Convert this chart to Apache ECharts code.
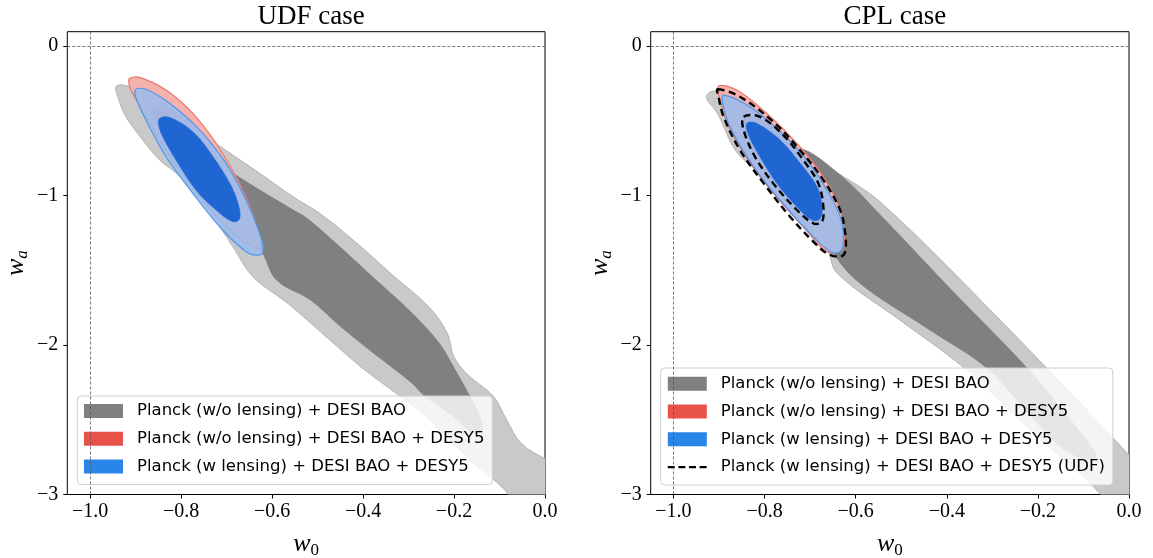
<!DOCTYPE html>
<html><head><meta charset="utf-8">
<script src="https://cdn.jsdelivr.net/npm/echarts@6.0.0/dist/echarts.min.js"></script>
<style>html,body{margin:0;padding:0;background:#fff}#c{width:1153px;height:558px}</style>
</head><body><div id="c"></div><script>
// ---- tick labels / names ----
const xTicks = [-1.0, -0.8, -0.6, -0.4, -0.2, 0.0];
const yTicks = [-3, -2, -1, 0];
const panelTitles = ['UDF case', 'CPL case'];
const nameGray = 'Planck (w/o lensing) + DESI BAO';
const nameRed = 'Planck (w/o lensing) + DESI BAO + DESY5';
const nameBlue = 'Planck (w lensing) + DESI BAO + DESY5';
const nameUDF = 'Planck (w lensing) + DESI BAO + DESY5 (UDF)';

// ---- contours, [w0, wa] ----
// UDF panel
const grayOuterUDF = [[-0.943,-0.274],[-0.928,-0.262],[-0.895,-0.300],[-0.850,-0.410],[-0.800,-0.504],[-0.745,-0.608],[-0.686,-0.731],[-0.627,-0.853],[-0.551,-1.015],[-0.493,-1.125],[-0.414,-1.319],[-0.335,-1.533],[-0.255,-1.747],[-0.215,-1.920],[-0.200,-2.081],[-0.169,-2.201],[-0.114,-2.342],[-0.083,-2.508],[-0.053,-2.656],[0.0,-2.760],[0.04,-2.800],[0.04,-3.100],[-0.060,-3.100],[-0.088,-2.970],[-0.165,-2.769],[-0.253,-2.502],[-0.319,-2.342],[-0.396,-2.168],[-0.473,-1.967],[-0.561,-1.733],[-0.642,-1.544],[-0.686,-1.344],[-0.740,-1.100],[-0.800,-0.880],[-0.847,-0.764],[-0.884,-0.630],[-0.921,-0.475],[-0.939,-0.341]];
const grayInnerUDF = [[-0.760,-0.700],[-0.708,-0.809],[-0.627,-0.965],[-0.554,-1.098],[-0.524,-1.152],[-0.453,-1.339],[-0.374,-1.560],[-0.295,-1.780],[-0.233,-1.987],[-0.200,-2.154],[-0.169,-2.322],[-0.145,-2.470],[-0.138,-2.570],[-0.160,-2.585],[-0.200,-2.480],[-0.264,-2.342],[-0.295,-2.248],[-0.374,-2.061],[-0.453,-1.867],[-0.515,-1.700],[-0.590,-1.566],[-0.620,-1.388],[-0.660,-1.200],[-0.710,-1.000],[-0.750,-0.820]];
const redOuterUDF = [[-0.913,-0.218],[-0.891,-0.211],[-0.833,-0.296],[-0.774,-0.452],[-0.723,-0.652],[-0.679,-0.876],[-0.646,-1.098],[-0.627,-1.277],[-0.624,-1.344],[-0.635,-1.354],[-0.686,-1.254],[-0.752,-1.031],[-0.818,-0.764],[-0.877,-0.475],[-0.910,-0.296],[-0.915,-0.241]];
const redInnerUDF = [[-0.860,-0.418],[-0.836,-0.403],[-0.781,-0.530],[-0.733,-0.711],[-0.693,-0.898],[-0.676,-1.031],[-0.671,-1.112],[-0.687,-1.145],[-0.729,-1.065],[-0.773,-0.931],[-0.817,-0.731],[-0.847,-0.563],[-0.861,-0.463]];
const blueOuterUDF = [[-0.899,-0.291],[-0.877,-0.291],[-0.825,-0.385],[-0.759,-0.564],[-0.701,-0.786],[-0.657,-1.031],[-0.627,-1.254],[-0.619,-1.366],[-0.627,-1.399],[-0.657,-1.377],[-0.715,-1.210],[-0.774,-0.987],[-0.833,-0.742],[-0.877,-0.497],[-0.900,-0.341]];
const blueInnerUDF = [[-0.847,-0.485],[-0.825,-0.479],[-0.774,-0.575],[-0.730,-0.742],[-0.693,-0.920],[-0.675,-1.053],[-0.671,-1.154],[-0.686,-1.176],[-0.723,-1.098],[-0.767,-0.965],[-0.811,-0.764],[-0.840,-0.608],[-0.849,-0.530]];
// CPL panel
const grayOuterCPL = [[-0.928,-0.343],[-0.913,-0.303],[-0.876,-0.330],[-0.766,-0.584],[-0.656,-0.818],[-0.546,-1.045],[-0.283,-1.834],[0.0,-2.736],[0.046,-2.903],[0.046,-3.170],[-0.042,-3.170],[-0.062,-3.000],[-0.217,-2.569],[-0.362,-2.154],[-0.503,-1.834],[-0.641,-1.519],[-0.663,-1.345],[-0.722,-1.032],[-0.854,-0.737],[-0.904,-0.450]];
const grayInnerCPL = [[-0.722,-0.697],[-0.634,-0.864],[-0.546,-1.132],[-0.392,-1.626],[-0.224,-2.154],[-0.141,-2.455],[-0.086,-2.669],[-0.073,-2.743],[-0.097,-2.763],[-0.152,-2.675],[-0.217,-2.468],[-0.312,-2.154],[-0.437,-1.900],[-0.599,-1.566],[-0.667,-1.299],[-0.722,-0.965]];
const redOuterCPL = [[-0.901,-0.269],[-0.861,-0.296],[-0.795,-0.452],[-0.729,-0.652],[-0.671,-0.876],[-0.634,-1.099],[-0.625,-1.277],[-0.630,-1.370],[-0.663,-1.379],[-0.707,-1.239],[-0.766,-1.039],[-0.824,-0.818],[-0.878,-0.547],[-0.898,-0.363]];
const redInnerCPL = [[-0.843,-0.490],[-0.813,-0.490],[-0.762,-0.610],[-0.718,-0.775],[-0.683,-0.930],[-0.672,-1.076],[-0.676,-1.165],[-0.694,-1.176],[-0.729,-1.087],[-0.777,-0.920],[-0.815,-0.742],[-0.840,-0.580]];
const blueOuterCPL = [[-0.890,-0.330],[-0.832,-0.408],[-0.766,-0.575],[-0.707,-0.764],[-0.663,-0.965],[-0.634,-1.143],[-0.627,-1.299],[-0.634,-1.377],[-0.656,-1.377],[-0.707,-1.232],[-0.766,-1.032],[-0.824,-0.809],[-0.876,-0.541],[-0.892,-0.385]];
const blueInnerCPL = [[-0.839,-0.519],[-0.817,-0.519],[-0.766,-0.630],[-0.722,-0.786],[-0.685,-0.943],[-0.674,-1.076],[-0.678,-1.154],[-0.696,-1.165],[-0.729,-1.076],[-0.773,-0.920],[-0.810,-0.742],[-0.835,-0.597]];
const udfOuterCPL = [[-0.903,-0.291],[-0.854,-0.341],[-0.781,-0.508],[-0.722,-0.698],[-0.671,-0.898],[-0.634,-1.099],[-0.623,-1.254],[-0.623,-1.377],[-0.634,-1.410],[-0.663,-1.388],[-0.693,-1.310],[-0.744,-1.143],[-0.802,-0.920],[-0.854,-0.697],[-0.890,-0.475],[-0.901,-0.341]];
const udfInnerCPL = [[-0.846,-0.475],[-0.810,-0.475],[-0.759,-0.597],[-0.715,-0.764],[-0.682,-0.920],[-0.671,-1.076],[-0.674,-1.176],[-0.693,-1.187],[-0.729,-1.098],[-0.781,-0.920],[-0.821,-0.742],[-0.846,-0.564]];

// ---- styles ----
const S = {
  grayOuter: {fill: '#c9c9c9', stroke: '#b3b3b3', lineWidth: 1},
  grayInner: {fill: '#808080', stroke: '#7a7a7a', lineWidth: 0.8},
  redOuter: {fill: '#f5b1ab', stroke: '#e9776e', lineWidth: 1.2},
  redInner: {fill: '#ee9a93', stroke: '#e07a72', lineWidth: 0.8},
  blueOuter: {fill: 'rgba(152,187,238,0.86)', stroke: '#4f97ea', lineWidth: 1.2},
  blueInner: {fill: '#1f66d3', stroke: '#1f6fe0', lineWidth: 0.8},
  udf: {fill: null, stroke: '#000', lineWidth: 2.4, lineDash: [7, 4.5]}
};

function poly(name, legendColor, pts, style, panel) {
  return {
    type: 'custom', name: name, xAxisIndex: panel, yAxisIndex: panel,
    coordinateSystem: 'cartesian2d', data: pts, silent: true,
    itemStyle: {color: legendColor},
    renderItem: function (params, api) {
      if (params.dataIndexInside !== 0) return null;
      const cs = params.coordSys;
      const p = pts.map(function (d) { return api.coord(d); });
      return {
        type: 'polygon',
        shape: {points: p, smooth: 0.35},
        style: {fill: style.fill || 'none', stroke: style.stroke, lineWidth: style.lineWidth, lineDash: style.lineDash || null},
        clipPath: {type: 'rect', shape: {x: cs.x, y: cs.y, width: cs.width, height: cs.height}}
      };
    }
  };
}
function refLines(panel) {
  return {
    type: 'line', name: '__ref' + panel, xAxisIndex: panel, yAxisIndex: panel, data: [], symbol: 'none',
    markLine: {silent: true, symbol: 'none', animation: false, label: {show: false},
      lineStyle: {color: '#555', width: 0.8, type: [3, 2]},
      data: [{xAxis: -1}, {yAxis: 0}]}
  };
}

const grids = [{left: 67.3, top: 31.7, width: 477.7, height: 462.8},
               {left: 650.7, top: 31.7, width: 478.3, height: 462.8}];
const serif = 'Liberation Serif';
const fmtX = v => (v < 0 ? '\u2212' : '') + Math.abs(v).toFixed(1);
const fmtY = v => (v < 0 ? '\u2212' : '') + Math.abs(v).toFixed(0);
const nameRich = {
  w: {fontFamily: serif, fontStyle: 'italic', fontSize: 26, lineHeight: 30, color: '#000'},
  s0: {fontFamily: serif, fontSize: 17, lineHeight: 14, verticalAlign: 'bottom', color: '#000'},
  sa: {fontFamily: serif, fontStyle: 'italic', fontSize: 17, lineHeight: 14, verticalAlign: 'bottom', color: '#000'}
};

const xAxes = grids.map((g, i) => ({
  type: 'value', gridIndex: i, min: -1.05, max: 0,
  name: '{w|w}{s0|0}', nameLocation: 'middle', nameGap: 35, nameTextStyle: {rich: nameRich},
  axisLine: {show: false, onZero: false},
  axisTick: {show: true, length: 4, lineStyle: {color: '#000', width: 1}, customValues: xTicks},
  axisLabel: {customValues: xTicks, formatter: fmtX, fontFamily: serif, fontSize: 20, color: '#000', margin: 7},
  splitLine: {show: false}
}));
const yAxes = grids.map((g, i) => ({
  type: 'value', gridIndex: i, min: -3, max: 0.094,
  name: '{w|w}{sa|a}', nameLocation: 'middle', nameGap: 36, nameRotate: 90, nameTextStyle: {rich: nameRich},
  axisLine: {show: false, onZero: false},
  axisTick: {show: true, length: 4, lineStyle: {color: '#000', width: 1}, customValues: yTicks},
  axisLabel: {customValues: yTicks, formatter: fmtY, fontFamily: serif, fontSize: 20, color: '#000', margin: 9},
  splitLine: {show: false}
}));

const legendCommon = {
  orient: 'vertical', itemWidth: 39, itemHeight: 14, itemGap: 9.8,
  backgroundColor: 'rgba(255,255,255,0.8)', borderColor: '#cfcfcf', borderWidth: 1, borderRadius: 4,
  textStyle: {fontFamily: 'DejaVu Sans', fontSize: 16.5, color: '#000', lineHeight: 18, padding: [0, 0, 0, 9]},
  selectedMode: false
};

const series = [
  refLines(0),
  poly(nameGray, '#808080', grayOuterUDF, S.grayOuter, 0),
  poly(nameGray, '#808080', grayInnerUDF, S.grayInner, 0),
  poly(nameRed, '#e8524a', redOuterUDF, S.redOuter, 0),
  poly(nameRed, '#e8524a', redInnerUDF, S.redInner, 0),
  poly(nameBlue, '#2a85e8', blueOuterUDF, S.blueOuter, 0),
  poly(nameBlue, '#2a85e8', blueInnerUDF, S.blueInner, 0),
  refLines(1),
  poly(nameGray, '#808080', grayOuterCPL, S.grayOuter, 1),
  poly(nameGray, '#808080', grayInnerCPL, S.grayInner, 1),
  poly(nameRed, '#e8524a', redOuterCPL, S.redOuter, 1),
  poly(nameRed, '#e8524a', redInnerCPL, S.redInner, 1),
  poly(nameBlue, '#2a85e8', blueOuterCPL, S.blueOuter, 1),
  poly(nameBlue, '#2a85e8', blueInnerCPL, S.blueInner, 1),
  poly('__udf', '#000', udfOuterCPL, S.udf, 1),
  poly('__udf', '#000', udfInnerCPL, S.udf, 1),
  {type: 'line', name: nameUDF, xAxisIndex: 1, yAxisIndex: 1, data: [], symbol: 'none', showSymbol: false,
   itemStyle: {color: '#000', opacity: 0}, lineStyle: {color: '#000', width: 2.2, type: [7, 3.6]}}
];

const chart = echarts.init(document.getElementById('c'), null, {renderer: 'canvas'});
chart.setOption({
  animation: false,
  backgroundColor: '#fff',
  title: panelTitles.map((t, i) => ({
    text: t, left: grids[i].left + grids[i].width / 2, textAlign: 'center', top: -2,
    textStyle: {fontFamily: serif, fontSize: 27, fontWeight: 'normal', color: '#000'}
  })),
  grid: grids.map(g => Object.assign({show: true, borderColor: '#000', borderWidth: 1, backgroundColor: 'transparent',
    containLabel: false, outerBoundsMode: 'none'}, g)),
  xAxis: xAxes,
  yAxis: yAxes,
  legend: [
    Object.assign({}, legendCommon, {left: 77.3, top: 396, padding: [6, 8, 9, 6.7],
      data: [{name: nameGray, icon: 'rect'}, {name: nameRed, icon: 'rect'}, {name: nameBlue, icon: 'rect'}]}),
    Object.assign({}, legendCommon, {left: 660.7, top: 368, padding: [6.7, 8, 9, 6],
      data: [{name: nameGray, icon: 'rect'}, {name: nameRed, icon: 'rect'}, {name: nameBlue, icon: 'rect'},
             {name: nameUDF, itemStyle: {opacity: 0}, lineStyle: {width: 2.2, type: [7, 3.6], color: '#000'}}]})
  ],
  series: series
});
</script></body></html>
